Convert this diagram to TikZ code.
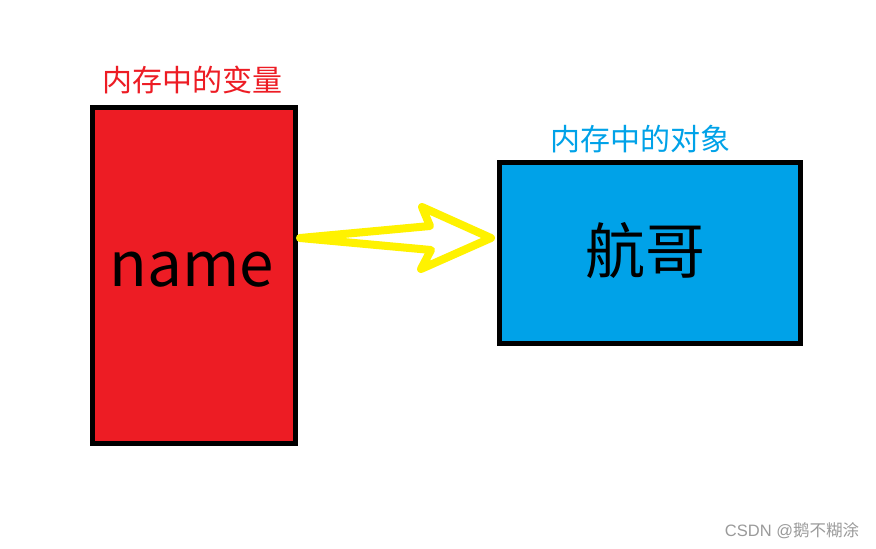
\documentclass[tikz,border=0pt]{standalone}
\usepackage{fontspec}
\newfontfamily\cjk{Noto Sans CJK SC}
\newfontfamily\arialfont{Liberation Sans}
\definecolor{pred}{HTML}{ED1C24}
\definecolor{pblue}{HTML}{00A2E8}
\definecolor{pyellow}{HTML}{FFF200}
\definecolor{wgray}{HTML}{9A9A9A}
\begin{document}
\begin{tikzpicture}[x=1pt,y=-1pt,
  box/.style={draw=black,line width=5pt,inner sep=0pt,outer sep=0pt},
  lbl/.style={inner sep=0pt,font=\cjk\fontsize{30}{30}\selectfont}]
\useasboundingbox (0,0) rectangle (876,549);
\fill[white] (0,0) rectangle (876,549);
\draw[box,fill=pred] (92.5,107.5) rectangle (295.5,443.5);
\draw[box,fill=pblue] (499.5,162.5) rectangle (800,343);
\node[lbl,text=pred] (vlabel) at (192,80) {内存中的变量};
\node[lbl,text=pblue] (olabel) at (640,139) {内存中的对象};
\node[inner sep=0pt,anchor=base,font=\cjk\fontsize{62}{62}\selectfont] (name) at (192,286) {name};
\node[inner sep=0pt,font=\cjk\fontsize{60}{60}\selectfont] (hang) at (645,251) {航哥};
\draw[pyellow,line width=8pt,line join=round,line cap=round]
  (300,238) -- (430,226) -- (422,207) -- (491,238) -- (421,269) -- (431,250) -- cycle;
\node[inner sep=0pt,text=wgray,font=\fontsize{16.5}{16.5}\selectfont] (wm) at (792,531) {\arialfont CSDN @\cjk 鹅不糊涂};
\end{tikzpicture}
\end{document}
